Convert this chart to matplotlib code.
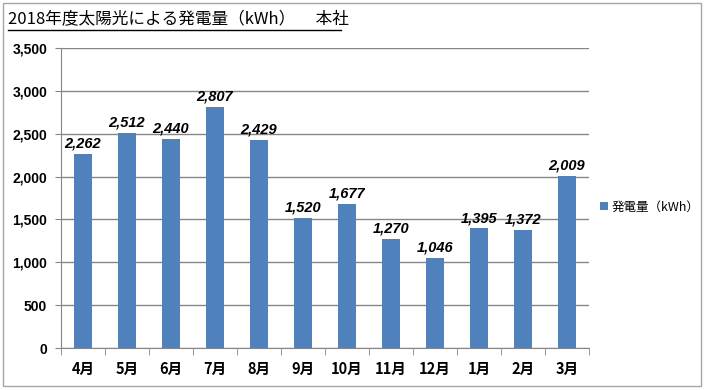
import matplotlib
matplotlib.use("Agg")
import matplotlib.pyplot as plt
from matplotlib.patches import Rectangle
from matplotlib.lines import Line2D

plt.rcParams['font.family'] = ['Noto Sans CJK JP', 'DejaVu Sans']

months = ['4月', '5月', '6月', '7月', '8月', '9月', '10月', '11月', '12月', '1月', '2月', '3月']
power_kwh = [2262, 2512, 2440, 2807, 2429, 1520, 1677, 1270, 1046, 1395, 1372, 2009]
yticks = [0, 500, 1000, 1500, 2000, 2500, 3000, 3500]

bar_color = '#4F81BD'
grid_color = '#868686'

fig = plt.figure(figsize=(7.04, 3.9), dpi=100)
ax = fig.add_axes([61 / 704, 1 - 348 / 390, (589 - 61) / 704, (348 - 48) / 390])

x = list(range(len(months)))
ax.bar(x, power_kwh, width=0.43, color=bar_color, zorder=3, label='発電量（kWh）')

for xi, v in zip(x, power_kwh):
    ax.text(xi, v + 40, f'{v:,}', ha='center', va='bottom', fontsize=10.5,
            fontweight='bold', fontstyle='italic', family=['Liberation Sans'], zorder=4)

ax.set_xlim(-0.5, len(months) - 0.5)
ax.set_ylim(0, 3500)
ax.set_yticks(yticks)
ax.set_yticklabels([f'{t:,}' for t in yticks], fontsize=10, fontweight='bold',
                   family=['Liberation Sans'])
ax.yaxis.grid(True, color=grid_color, linewidth=1, zorder=0)

ax.set_xticks(x)
ax.set_xticklabels(months, fontsize=10.5, fontweight='bold')
ax.set_xticks([i - 0.5 for i in range(len(months) + 1)], minor=True)
ax.tick_params(axis='x', which='major', length=0, pad=9)
ax.tick_params(axis='x', which='minor', length=5, color=grid_color, direction='out')
ax.tick_params(axis='y', length=4, color=grid_color, direction='out', pad=6)

for side in ['top', 'right']:
    ax.spines[side].set_visible(False)
ax.spines['left'].set_color(grid_color)
ax.spines['bottom'].set_color(grid_color)

leg = ax.legend(loc='center left', bbox_to_anchor=(1.0, 0.47), frameon=False,
                fontsize=9, handlelength=0.6, handleheight=0.6, handletextpad=0.3)

# title with underline
fig.text(8 / 704, 1 - 20 / 390, '2018年度太陽光による発電量（kWh）\u3000 本社',
         fontsize=12, va='center', ha='left')
fig.add_artist(Line2D([8 / 704, 341 / 704], [1 - 30 / 390, 1 - 30 / 390],
                      color='black', linewidth=1))

# outer frame
fig.add_artist(Rectangle((3 / 704, 4 / 390), 698 / 704, 383 / 390, transform=fig.transFigure,
                         fill=False, edgecolor='#A6A6A6', linewidth=1))

fig.savefig('out.png', dpi=100)
